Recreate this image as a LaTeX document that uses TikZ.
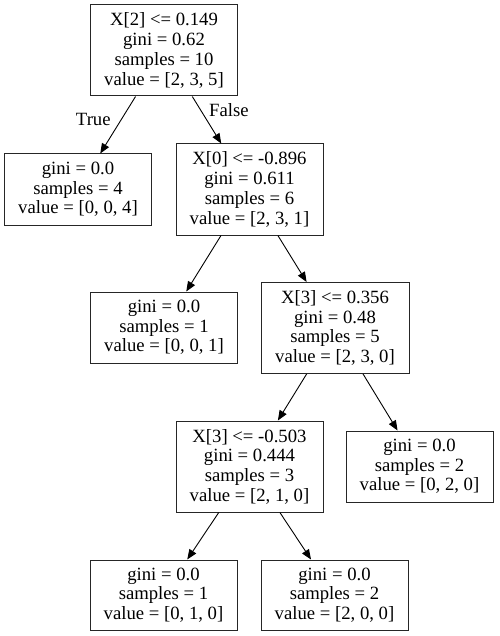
\documentclass[tikz,border=0pt]{standalone}
\usepackage{fontspec}
\setmainfont{Liberation Serif}
\usetikzlibrary{arrows.meta}

\begin{document}
\begin{tikzpicture}[x=1pt, y=-1pt,
    box/.style={rectangle, draw=black!85, line width=1pt, align=center,
        inner sep=0pt, minimum width=147pt,
        font=\fontsize{18.7}{19.7}\selectfont},
    split/.style={box, minimum height=91pt},
    leaf/.style={box, minimum height=71pt},
    edge/.style={line width=0.9pt, -{Triangle[length=10pt, width=8pt]}},
    edgelabel/.style={font=\fontsize{18.7}{19.7}\selectfont, inner sep=0pt}]
    \useasboundingbox (0,0) rectangle (499,636);

    \node[split] (root) at (164,50.5) {X[2] <= 0.149\\gini = 0.62\\samples = 10\\value = [2, 3, 5]};
    \node[leaf] (leafA) at (78,189.5) {gini = 0.0\\samples = 4\\value = [0, 0, 4]};
    \node[split] (splitA) at (249.5,189.5) {X[0] <= -0.896\\gini = 0.611\\samples = 6\\value = [2, 3, 1]};
    \node[leaf] (leafB) at (164,327.5) {gini = 0.0\\samples = 1\\value = [0, 0, 1]};
    \node[split, minimum width=148pt] (splitB) at (335,328) {X[3] <= 0.356\\gini = 0.48\\samples = 5\\value = [2, 3, 0]};
    \node[split] (splitC) at (249.5,466.5) {X[3] <= -0.503\\gini = 0.444\\samples = 3\\value = [2, 1, 0]};
    \node[leaf] (leafC) at (419.5,466.5) {gini = 0.0\\samples = 2\\value = [0, 2, 0]};
    \node[leaf, minimum height=70pt] (leafD) at (163.5,595) {gini = 0.0\\samples = 1\\value = [0, 1, 0]};
    \node[leaf, minimum height=70pt] (leafE) at (334.5,595) {gini = 0.0\\samples = 2\\value = [2, 0, 0]};

    \draw[edge] (root) -- node[edgelabel, pos=0.41, left=10pt] {True} (leafA);
    \draw[edge] (root) -- node[edgelabel, pos=0.29, right=8pt] {False} (splitA);
    \draw[edge] (splitA) -- (leafB);
    \draw[edge] (splitA) -- (splitB);
    \draw[edge] (splitB) -- (splitC);
    \draw[edge] (splitB) -- (leafC);
    \draw[edge] (splitC) -- (leafD);
    \draw[edge] (splitC) -- (leafE);
\end{tikzpicture}
\end{document}
